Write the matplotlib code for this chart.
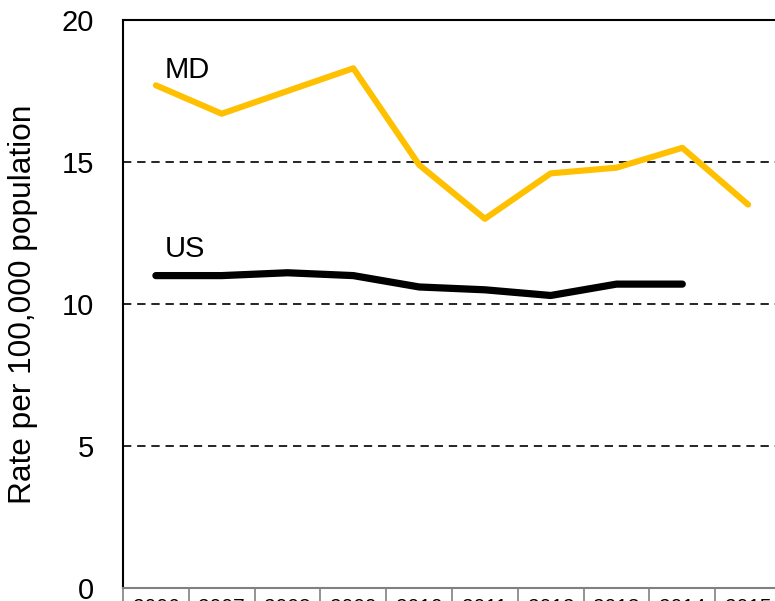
import matplotlib
matplotlib.use("Agg")
import matplotlib.pyplot as plt
from matplotlib.ticker import FixedLocator

plt.rcParams['font.family'] = ['Liberation Sans', 'DejaVu Sans']

years = ['2006', '2007', '2008', '2009', '2010', '2011', '2012', '2013', '2014', '2015']
md_rates = [17.7, 16.7, 17.5, 18.3, 14.9, 13.0, 14.6, 14.8, 15.5, 13.5]
us_rates = [11.0, 11.0, 11.1, 11.0, 10.6, 10.5, 10.3, 10.7, 10.7]
y_ticks = [0, 5, 10, 15, 20]

W, H = 775, 601
fig = plt.figure(figsize=(W / 100, H / 100), dpi=100)
left, right, top, bottom = 123, 781, 20, 588
ax = fig.add_axes([left / W, 1 - bottom / H, (right - left) / W, (bottom - top) / H])

x_md = list(range(len(md_rates)))
x_us = list(range(len(us_rates)))

for yv in [5, 10, 15]:
    ax.axhline(yv, color='black', lw=1.2, ls=(0, (5, 3.5)), zorder=1)

ax.plot(x_md, md_rates, color='#FFC000', lw=4.4, solid_capstyle='round',
        solid_joinstyle='round', zorder=3)
ax.plot(x_us, us_rates, color='black', lw=5.2, solid_capstyle='round',
        solid_joinstyle='round', zorder=3)

ax.text(0.13, 17.95, 'MD', fontsize=21, ha='left', va='baseline')
ax.text(0.13, 11.65, 'US', fontsize=21, ha='left', va='baseline')

ax.set_xlim(-0.5, len(years) - 0.5)
ax.set_ylim(0, 20)
ax.set_yticks(y_ticks)
ax.set_yticklabels([str(v) for v in y_ticks])
ax.tick_params(axis='y', length=0, pad=21, labelsize=21)

ax.set_xticks(range(len(years)))
ax.set_xticklabels(years)
ax.tick_params(axis='x', which='major', length=0, pad=7, labelsize=15)
ax.xaxis.set_minor_locator(FixedLocator([i - 0.5 for i in range(len(years) + 1)]))
ax.tick_params(axis='x', which='minor', length=14, width=1.2, color='#808080', direction='out')

for s in ['left', 'top', 'right']:
    ax.spines[s].set_color('black')
    ax.spines[s].set_linewidth(1.5)
ax.spines['bottom'].set_color('#808080')
ax.spines['bottom'].set_linewidth(1.5)

ax.set_ylabel('Rate per 100,000 population', fontsize=22.8, labelpad=17)

fig.savefig('out.png', dpi=100)
